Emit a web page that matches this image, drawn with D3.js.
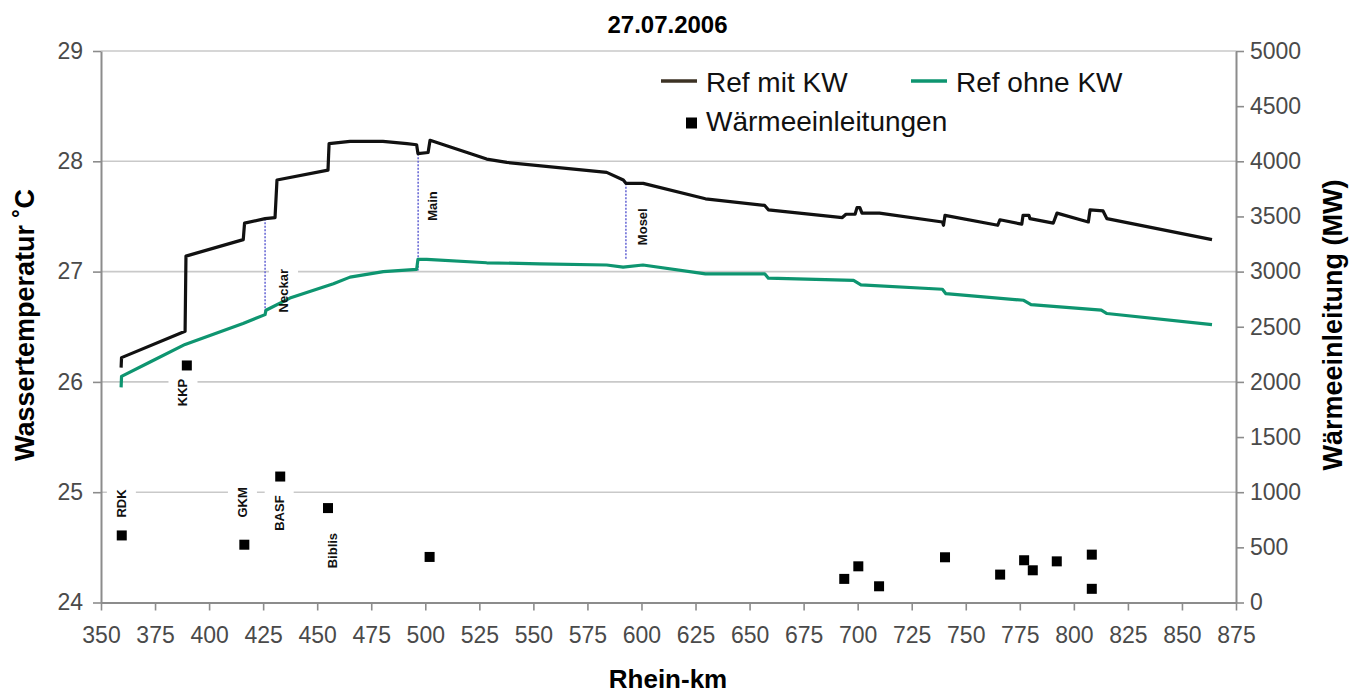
<!doctype html>
<html>
<head>
  <title>27.07.2006</title>
  <meta charset="UTF-8">
  <script src="https://d3js.org/d3.v7.min.js"></script>
  <style>
    body { margin: 0; background: #fff; }
  </style>
</head>
<body>
<div id="svg_area"></div>
<script>
// Rhein-km and water temperature, with power plants (Ref mit KW)
var kmMit = [359.3, 359.5, 388.9, 389.3, 415.8, 416.4, 425.9, 430.5, 431.4, 455.0, 455.5, 465.2, 480.4, 491.5,
             496.0, 496.6, 501.3, 502.2, 528.4, 537.7, 583.9, 591.6, 592.8, 600.8, 629.6, 657.0, 658.7, 692.9,
             694.6, 698.8, 699.7, 701.0, 702.0, 710.1, 739.2, 739.7, 740.4, 764.8, 765.8, 775.9, 776.5, 779.2,
             779.7, 790.5, 792.2, 806.7, 807.5, 813.5, 815.3, 863.9];
var tMit  = [26.13, 26.22, 26.46, 27.14, 27.29, 27.44, 27.48, 27.49, 27.83, 27.92, 28.16, 28.18, 28.18, 28.16,
             28.15, 28.07, 28.08, 28.19, 28.02, 27.99, 27.90, 27.83, 27.80, 27.80, 27.66, 27.60, 27.56, 27.49,
             27.52, 27.52, 27.58, 27.58, 27.53, 27.53, 27.45, 27.42, 27.51, 27.42, 27.47, 27.43, 27.51, 27.51,
             27.48, 27.44, 27.53, 27.45, 27.56, 27.55, 27.48, 27.29];

// without power plants (Ref ohne KW)
var kmOhne = [359.3, 359.5, 372.7, 388.9, 415.7, 425.9, 426.3, 437.4, 457.5, 465.2, 480.6, 496.0, 496.6, 500.7,
              528.4, 553.0, 583.9, 591.5, 600.7, 629.6, 657.0, 658.7, 698.1, 701.5, 739.2, 740.8, 776.8, 780.2,
              812.7, 815.3, 863.9];
var tOhne  = [25.95, 26.05, 26.18, 26.34, 26.53, 26.61, 26.65, 26.76, 26.89, 26.95, 27.00, 27.02, 27.11, 27.11,
              27.08, 27.07, 27.06, 27.04, 27.06, 26.98, 26.98, 26.94, 26.92, 26.88, 26.84, 26.80, 26.74, 26.70,
              26.65, 26.62, 26.52];

// heat discharges (Wärmeeinleitungen), MW on the right axis
var kmWaerme = [359.6, 389.7, 416.3, 432.9, 455.0, 502.0, 693.8, 700.3, 709.9, 740.4, 765.9, 777.0, 781.0, 792.1, 808.3, 808.3];
var mwWaerme = [608, 2149, 524, 1142, 856, 413, 214, 328, 147, 410, 253, 383, 292, 373, 434, 124];

// tributaries: km, temperature at top and bottom of the dotted line
var rivers   = ["Neckar", "Main", "Mosel"];
var riverKm  = [425.9, 496.7, 592.8];
var riverTop = [27.48, 28.10, 27.80];
var riverBot = [26.61, 27.01, 27.11];

// plant names
var plants = ["RDK", "KKP", "GKM", "BASF", "Biblis"];

var xTicks  = d3.range(350, 876, 25);
var yTicks  = [24, 25, 26, 27, 28, 29];
var y2Ticks = d3.range(0, 5001, 500);

var W = 1352, H = 693;
var plotL = 101, plotR = 1236, plotT = 51, plotB = 602.5;

var svg = d3.select("#svg_area").append("svg")
    .attr("width", W)
    .attr("height", H)
    .style("font-family", "'Liberation Sans', Arial, sans-serif");

var x  = d3.scaleLinear().domain([350, 875]).range([plotL, plotR]);
var y  = d3.scaleLinear().domain([24, 29]).range([plotB, plotT]);
var y2 = d3.scaleLinear().domain([0, 5000]).range([plotB, plotT]);

// gridlines
svg.append("g").selectAll("line")
    .data(yTicks.slice(1))
    .enter().append("line")
    .attr("x1", plotL).attr("x2", plotR)
    .attr("y1", function (d) { return y(d); })
    .attr("y2", function (d) { return y(d); })
    .attr("stroke", "#c9c9c9")
    .attr("stroke-width", 1.6);

// label positions (baseline x in km, start of text as temperature)
var plantLabelKm = [361.5, 390.0, 417.5, 434.5, 459.0];
var plantLabelT  = [24.77, 25.78, 24.77, 24.65, 24.31];
var riverLabelKm = riverKm.map(function (d, i) { return d + [10.6, 8.8, 9.7][i]; });
var riverLabelT  = [26.63, 27.46, 27.24];

var labels = plants.map(function (d, i) { return { name: d, km: plantLabelKm[i], t: plantLabelT[i] }; })
    .concat(rivers.map(function (d, i) { return { name: d, km: riverLabelKm[i], t: riverLabelT[i] }; }));

var labelG = svg.append("g");
var labelTexts = labelG.selectAll("text")
    .data(labels)
    .enter().append("text")
    .attr("transform", function (d) { return "translate(" + x(d.km) + "," + y(d.t) + ") rotate(-90)"; })
    .attr("font-size", "13px")
    .attr("font-weight", "bold")
    .attr("fill", "#111")
    .text(function (d) { return d.name; });

// white boxes behind labels (they break the gridlines)
var boxG = svg.insert("g", "g + g");
labelTexts.each(function () {
    var b = this.getBBox();
    boxG.append("rect")
        .attr("transform", d3.select(this).attr("transform"))
        .attr("x", b.x - 5).attr("y", b.y - 7)
        .attr("width", b.width + 10).attr("height", b.height + 14)
        .attr("fill", "#fff");
});

// axes
function styleAxis(g) {
    g.select(".domain").attr("stroke", "#8c8c8c").attr("stroke-width", 2);
    g.selectAll(".tick line").attr("stroke", "#8c8c8c").attr("stroke-width", 1.6);
    g.selectAll(".tick text").attr("fill", "#4a4a4a").attr("font-size", "23px")
        .attr("font-family", "'Liberation Sans', Arial, sans-serif");
}

svg.append("g")
    .attr("transform", "translate(0," + plotB + ")")
    .call(d3.axisBottom(x).tickValues(xTicks).tickFormat(d3.format("d"))
        .tickSize(8).tickPadding(16).tickSizeOuter(0))
    .call(styleAxis);

svg.append("g")
    .attr("transform", "translate(" + plotL + ",0)")
    .call(d3.axisLeft(y).tickValues(yTicks).tickFormat(d3.format("d"))
        .tickSize(8).tickPadding(10).tickSizeOuter(0))
    .call(styleAxis);

svg.append("g")
    .attr("transform", "translate(" + plotR + ",0)")
    .call(d3.axisRight(y2).tickValues(y2Ticks).tickFormat(d3.format("d"))
        .tickSize(8).tickPadding(6).tickSizeOuter(0))
    .call(styleAxis);

// tributary dotted lines
svg.append("g").selectAll("line")
    .data(rivers)
    .enter().append("line")
    .attr("x1", function (d, i) { return x(riverKm[i]); })
    .attr("x2", function (d, i) { return x(riverKm[i]); })
    .attr("y1", function (d, i) { return y(riverTop[i]); })
    .attr("y2", function (d, i) { return y(riverBot[i]); })
    .attr("stroke", "#6c6cd6")
    .attr("stroke-width", 1.6)
    .attr("stroke-dasharray", "2,1.5");

// temperature lines
var line = d3.line()
    .x(function (d) { return x(d[0]); })
    .y(function (d) { return y(d[1]); });

svg.append("path")
    .datum(d3.zip(kmOhne, tOhne))
    .attr("d", line)
    .attr("fill", "none")
    .attr("stroke", "#0e9570")
    .attr("stroke-width", 3.2)
    .attr("stroke-linejoin", "round");

svg.append("path")
    .datum(d3.zip(kmMit, tMit))
    .attr("d", line)
    .attr("fill", "none")
    .attr("stroke", "#111")
    .attr("stroke-width", 3.2)
    .attr("stroke-linejoin", "round");

// heat discharge markers
var sq = 10;
svg.append("g").selectAll("rect")
    .data(mwWaerme)
    .enter().append("rect")
    .attr("x", function (d, i) { return x(kmWaerme[i]) - sq / 2; })
    .attr("y", function (d) { return y2(d) - sq / 2; })
    .attr("width", sq).attr("height", sq)
    .attr("fill", "#000");

// bring labels over the lines
labelG.raise();

// titles
svg.append("text")
    .attr("x", 667.5).attr("y", 33)
    .attr("text-anchor", "middle")
    .attr("font-size", "24px").attr("font-weight", "bold")
    .text("27.07.2006");

svg.append("text")
    .attr("x", 668).attr("y", 688)
    .attr("text-anchor", "middle")
    .attr("font-size", "26px").attr("font-weight", "bold")
    .text("Rhein-km");

svg.append("text")
    .attr("transform", "translate(34,325) rotate(-90)")
    .attr("text-anchor", "middle")
    .attr("font-size", "27px").attr("font-weight", "bold")
    .text("Wassertemperatur ˚C");

svg.append("text")
    .attr("transform", "translate(1342,325) rotate(-90)")
    .attr("text-anchor", "middle")
    .attr("font-size", "27px").attr("font-weight", "bold")
    .text("Wärmeeinleitung (MW)");

// legend
var legend = svg.append("g").attr("font-size", "28px").attr("fill", "#111");

legend.append("line").attr("x1", 661).attr("x2", 697).attr("y1", 81).attr("y2", 81)
    .attr("stroke", "#3c3224").attr("stroke-width", 3.5);
legend.append("text").attr("x", 706).attr("y", 91.5).text("Ref mit KW");

legend.append("line").attr("x1", 911).attr("x2", 947).attr("y1", 81).attr("y2", 81)
    .attr("stroke", "#0e9570").attr("stroke-width", 3.5);
legend.append("text").attr("x", 956).attr("y", 91.5).text("Ref ohne KW");

legend.append("rect").attr("x", 686).attr("y", 117.5).attr("width", 11).attr("height", 11)
    .attr("fill", "#000");
legend.append("text").attr("x", 706).attr("y", 131).text("Wärmeeinleitungen");
</script>
</body>
</html>
